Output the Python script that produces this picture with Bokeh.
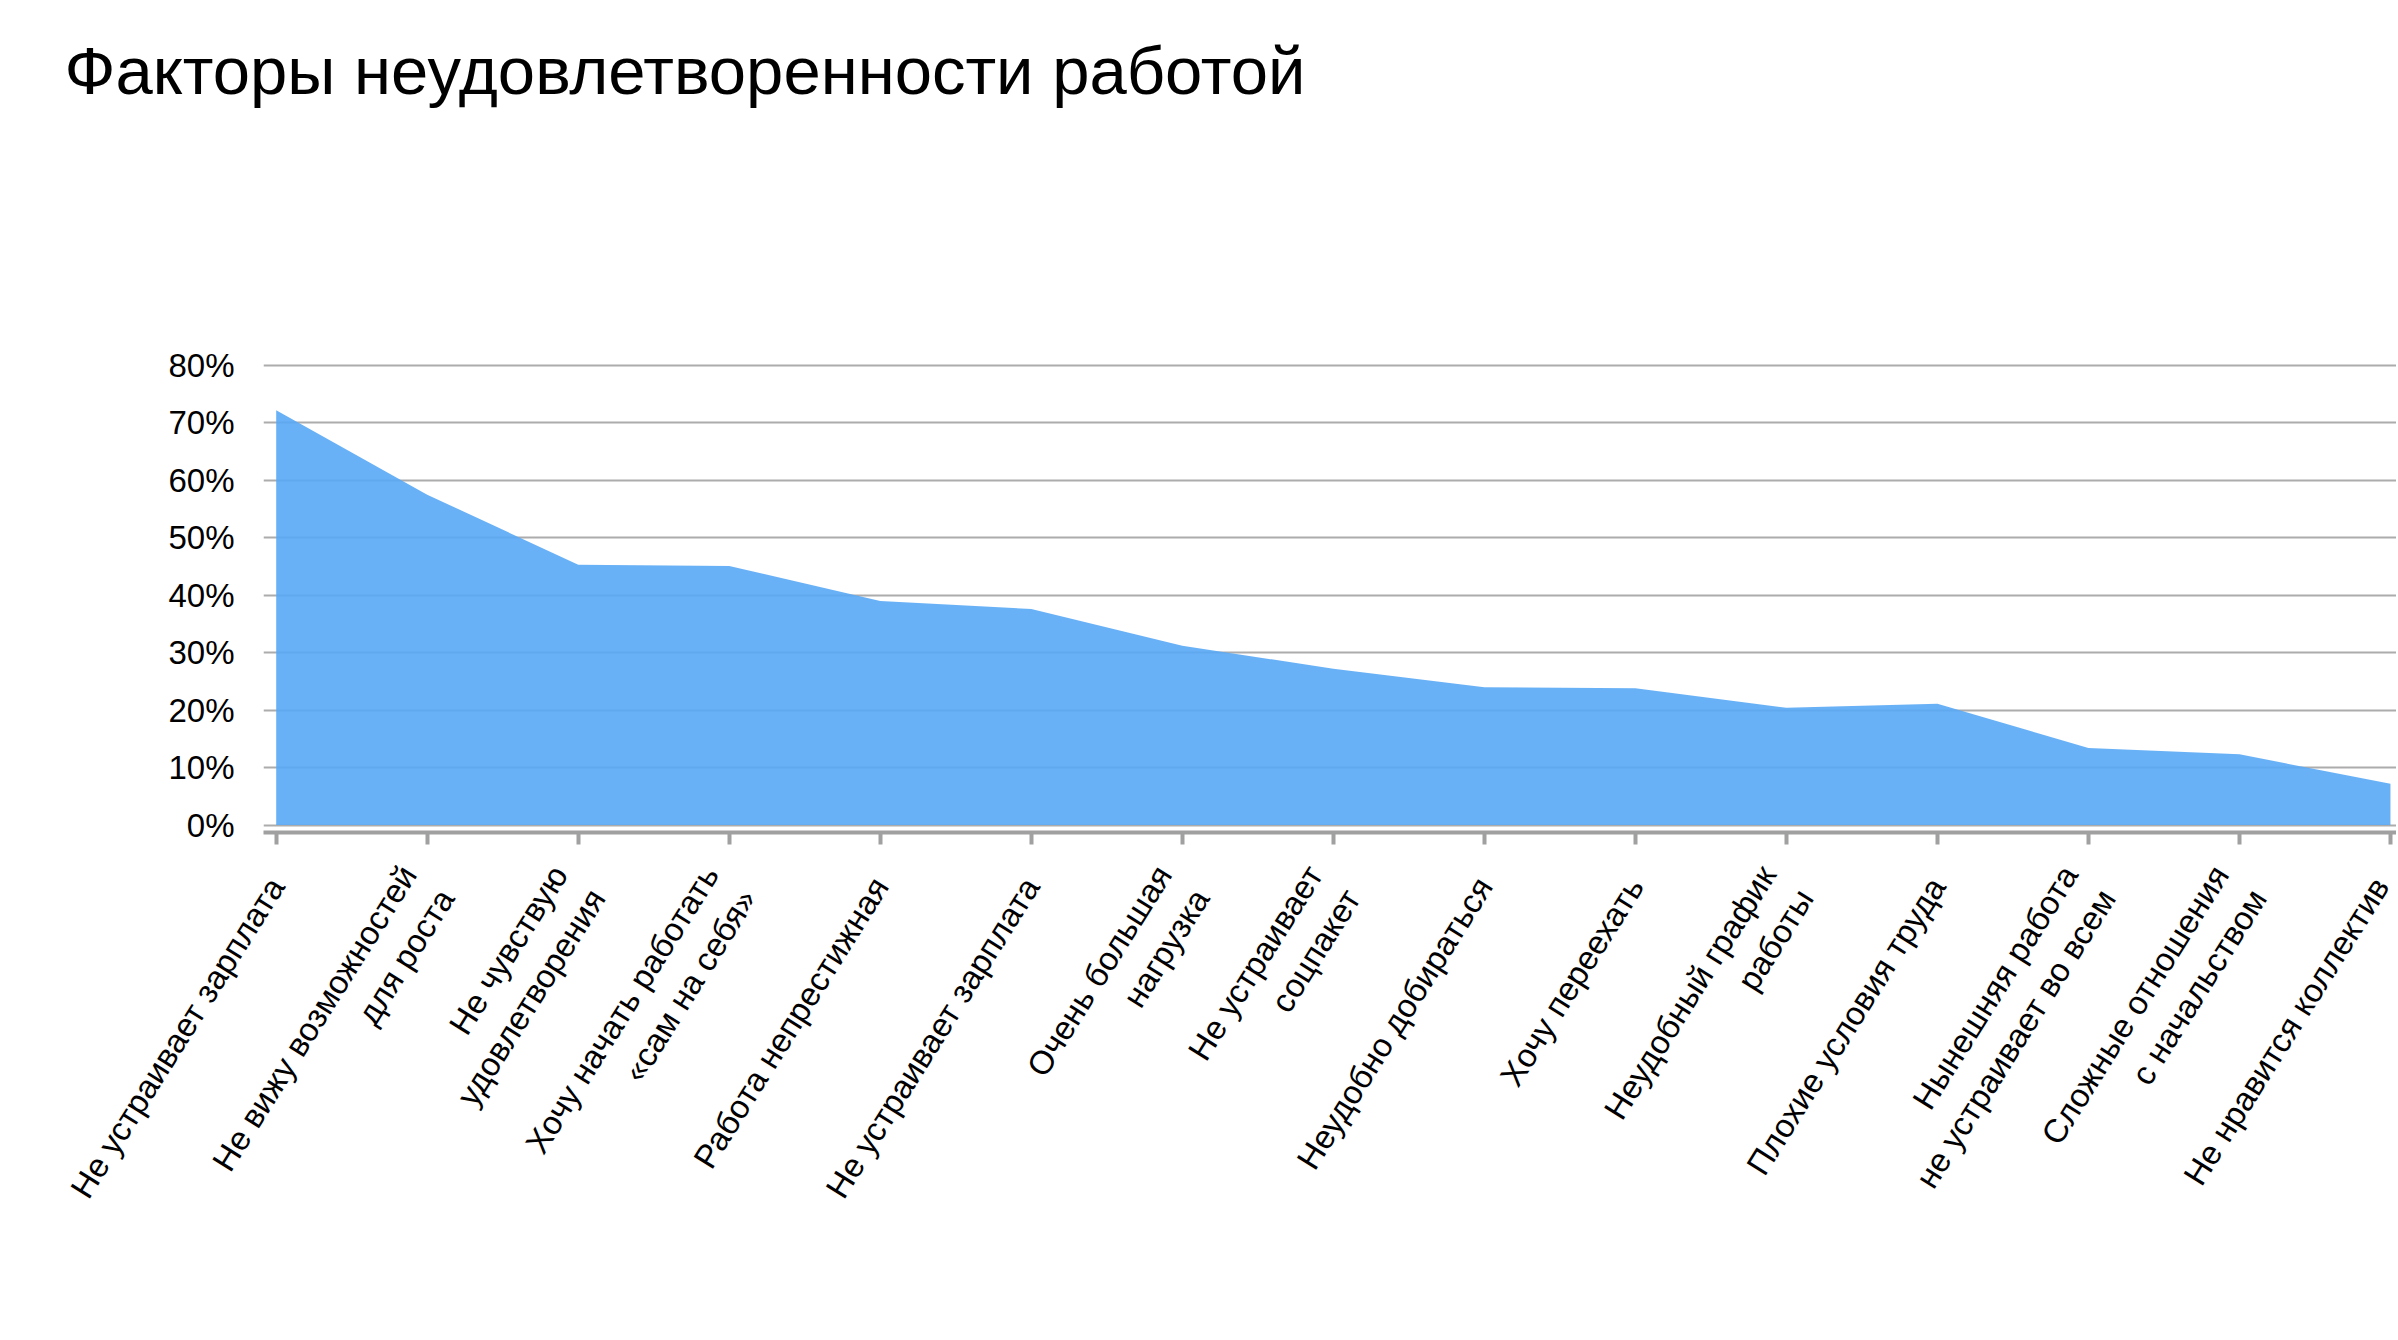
from bokeh.embed import file_html
from bokeh.models import FixedTicker, PrintfTickFormatter, Range1d
from bokeh.plotting import figure
from bokeh.resources import INLINE

# data (share of respondents, %)
factors = [
    "Не устраивает зарплата",
    "Не вижу возможностей\nдля роста",
    "Не чувствую\nудовлетворения",
    "Хочу начать работать\n«сам на себя»",
    "Работа непрестижная",
    "Не устраивает зарплата",
    "Очень большая\nнагрузка",
    "Не устраивает\nсоцпакет",
    "Неудобно добираться",
    "Хочу переехать",
    "Неудобный график\nработы",
    "Плохие условия труда",
    "Нынешняя работа\nне устраивает во всем",
    "Сложные отношения\nс начальством",
    "Не нравится коллектив",
]
shares = [72.2, 57.5, 45.3, 45.1, 39.0, 37.6, 31.2, 27.2, 24.0, 23.8, 20.4, 21.1, 13.4, 12.3, 7.2]
y_ticks = [0, 10, 20, 30, 40, 50, 60, 70, 80]

xs = list(range(len(factors)))
FONT = "Liberation Sans"

# the y range runs well above 80% so the empty slide space under the title
# belongs to the frame; only 0..80 get ticks and grid lines
p = figure(
    width=2396, height=1320,
    x_range=Range1d(-0.084, 14.04), y_range=Range1d(-1.3, 121.4),
    output_backend="svg", toolbar_location=None,
    min_border_left=263, min_border_right=0,
    min_border_top=127, min_border_bottom=488,
    title="Факторы неудовлетворенности работой",
)
p.outline_line_color = None

p.title.text_font = FONT
p.title.text_font_size = "67px"
p.title.text_font_style = "normal"
p.title.text_color = "black"
p.title.offset = -199
p.title.standoff = 40

# filled area
p.varea(x=xs, y1=0, y2=shares, fill_color="#59a9f5", fill_alpha=0.9)

# grid
p.xgrid.grid_line_color = None
p.ygrid.ticker = FixedTicker(ticks=y_ticks)
p.ygrid.grid_line_color = "#acacac"
p.ygrid.grid_line_width = 2

# y axis: labels only
p.yaxis.ticker = FixedTicker(ticks=y_ticks)
p.yaxis.formatter = PrintfTickFormatter(format="%d%%")
p.yaxis.axis_line_color = None
p.yaxis.major_tick_line_color = None
p.yaxis.minor_tick_line_color = None
p.yaxis.major_label_standoff = 23
p.yaxis.major_label_text_font = FONT
p.yaxis.major_label_text_font_size = "33px"
p.yaxis.major_label_text_color = "black"

# x axis: thick grey line, ticks and rotated labels
p.xaxis.ticker = FixedTicker(ticks=xs)
p.xaxis.major_label_overrides = {i: f for i, f in enumerate(factors)}
p.xaxis.major_label_orientation = 1.01
p.xaxis.axis_line_color = "#a0a0a0"
p.xaxis.axis_line_width = 4
p.xaxis.major_tick_line_color = "#a0a0a0"
p.xaxis.major_tick_line_width = 4
p.xaxis.major_tick_out = 12
p.xaxis.major_tick_in = 0
p.xaxis.minor_tick_line_color = None
p.xaxis.major_label_standoff = 36
p.xaxis.major_label_text_font = FONT
p.xaxis.major_label_text_font_size = "33px"
p.xaxis.major_label_text_color = "black"

open("out.html", "w").write(file_html(p, INLINE))
